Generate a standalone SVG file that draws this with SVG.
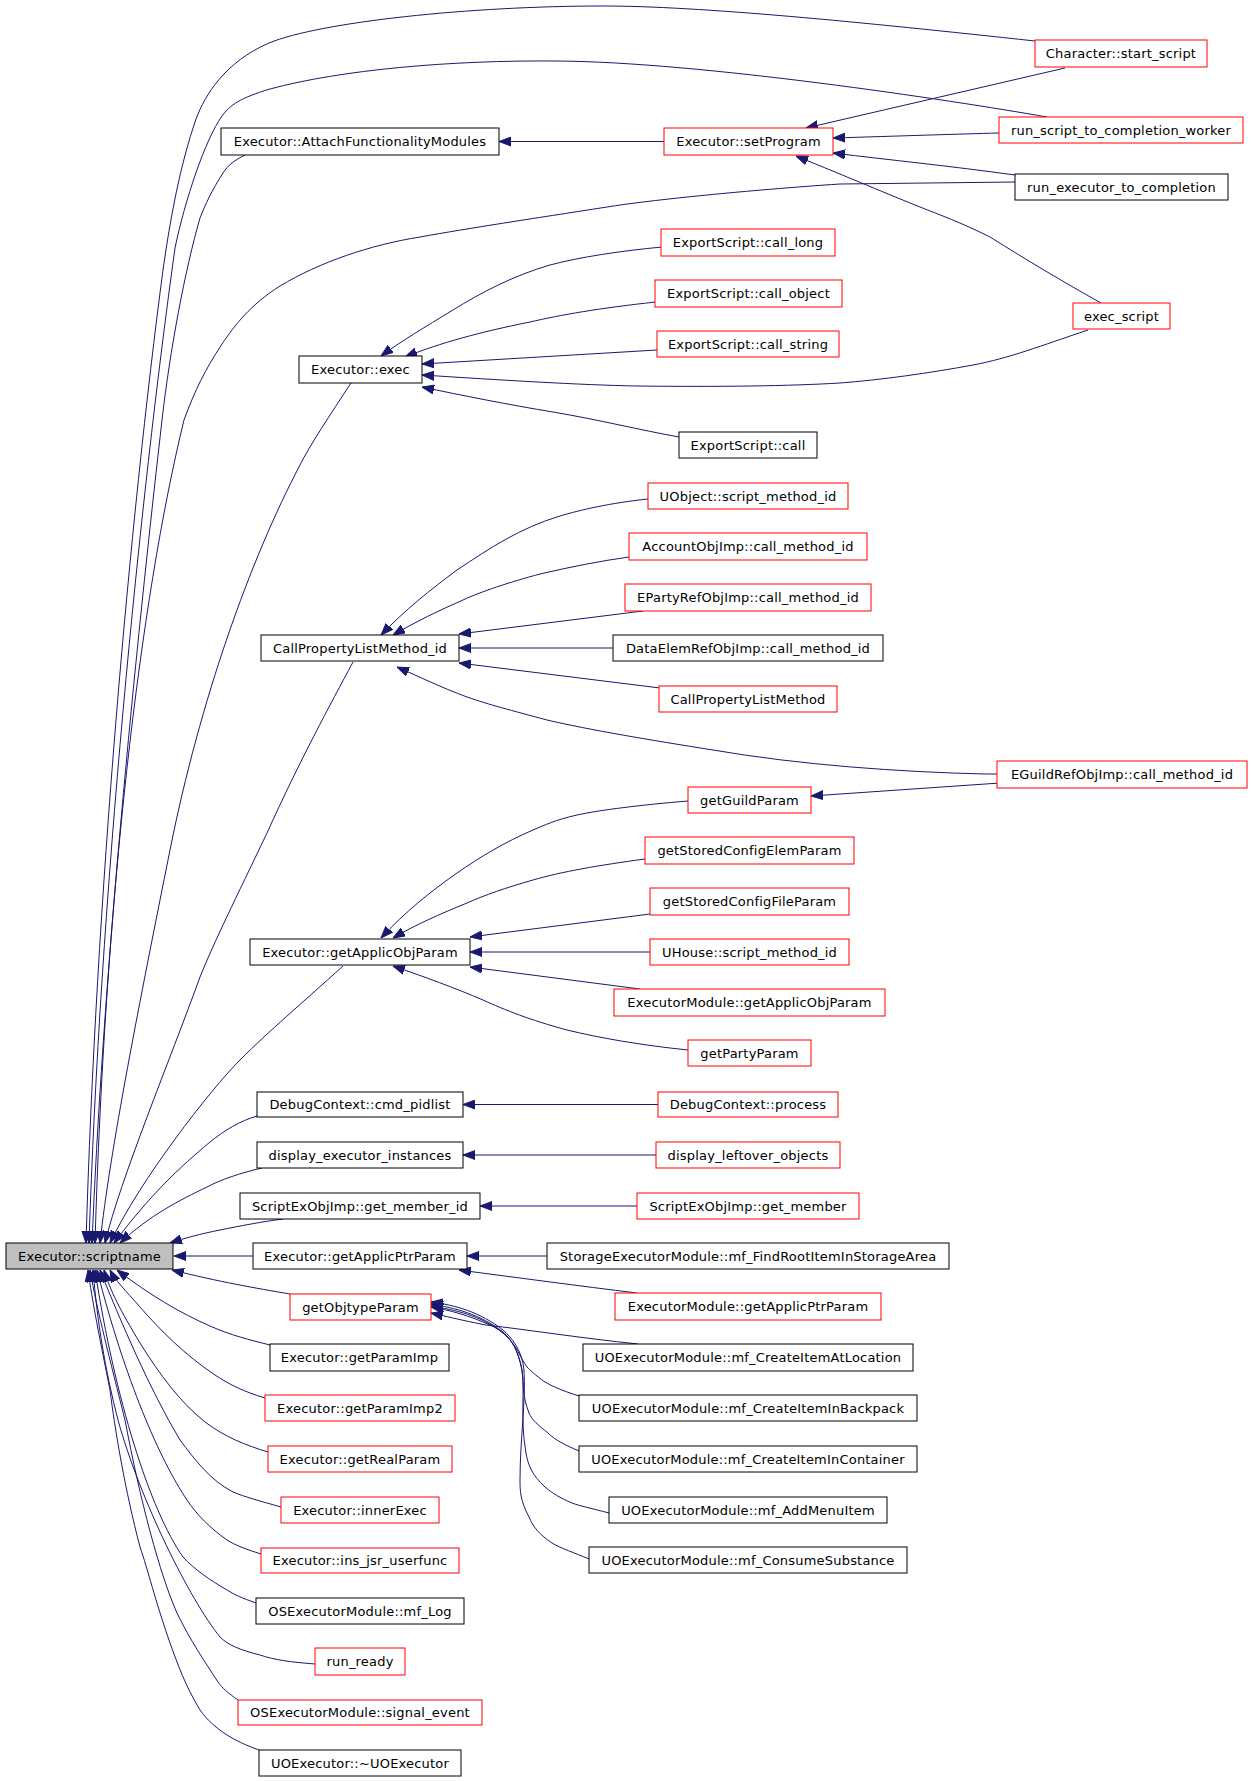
<svg xmlns="http://www.w3.org/2000/svg" width="1251" height="1781" viewBox="0 0 1251 1781">
<style>
.n rect{fill:#fff;stroke:#000;stroke-width:1}
.r rect{stroke:#f00}
.g rect{fill:#bfbfbf}
text{font-family:"DejaVu Sans","Liberation Sans",sans-serif;font-size:13px;letter-spacing:0.2px;text-anchor:middle;fill:#000}
#edges path{fill:none;stroke:#191970;stroke-width:1;marker-end:url(#a)}
</style>
<defs>
<marker id="a" markerWidth="12" markerHeight="10" refX="12" refY="5" orient="auto" markerUnits="userSpaceOnUse">
<path d="M0,0.5 L12,5 L0,9.5 z" fill="#191970" stroke="#191970" stroke-width="1"/>
</marker>
</defs>
<rect width="1251" height="1781" fill="#fff"/>
<g id="edges">
<path d="M1035,41 C860,22 700,6 603,6 C470,6 320,22 269,43 C225,62 205,95 196,119 C180,165 170,220 163,270 C130,520 96,900 86,1243"/>
<path d="M1047,117 C950,100 700,62 557,61 C450,60 340,70 270,89 C240,98 230,105 222,116 C205,140 185,200 175,248 C140,500 100,900 89,1243"/>
<path d="M245,155 C235,160 228,165 223,173 C212,190 205,205 200,218 C185,270 170,350 162,420 C130,700 102,1000 92,1243"/>
<path d="M1015,182 L840,184 C750,190 650,200 607,207 C530,219 470,228 420,237 C370,245 320,262 280,286 C250,305 235,325 222,344 C205,370 195,390 184,420 C140,600 105,900 95,1243"/>
<path d="M351,383 C330,415 310,445 300,465 C250,560 200,700 170,850 C140,1000 110,1150 100,1243"/>
<path d="M353,662 C330,705 300,760 267,833 C235,900 215,940 200,977 C170,1060 120,1180 105,1243"/>
<path d="M343,966 C300,1005 270,1030 240,1060 C210,1090 140,1180 110,1243"/>
<path d="M257,1116 C240,1121 225,1130 210,1142 C180,1167 150,1195 114,1243"/>
<path d="M262,1168 C240,1173 220,1180 207,1187 C180,1200 150,1215 120,1243"/>
<path d="M283,1219 C260,1222 240,1226 220,1230 C200,1234 185,1238 170,1243"/>
<path d="M253,1256 L174,1256"/>
<path d="M290,1294 C255,1288 220,1282 172,1270"/>
<path d="M270,1345 C250,1340 230,1335 210,1326 C180,1313 150,1295 117,1270"/>
<path d="M265,1398 C245,1392 230,1385 215,1375 C185,1355 160,1330 140,1307 C125,1290 115,1280 110,1270"/>
<path d="M268,1452 C245,1445 225,1437 205,1422 C180,1402 160,1375 140,1343 C120,1310 110,1290 104,1270"/>
<path d="M281,1507 C260,1501 245,1497 233,1492 C210,1480 195,1460 180,1440 C150,1390 120,1320 100,1270"/>
<path d="M261,1554 C245,1549 235,1545 227,1540 C210,1528 197,1515 187,1500 C160,1460 125,1380 97,1270"/>
<path d="M256,1603 C242,1598 235,1595 227,1590 C210,1580 195,1570 183,1557 C150,1510 115,1400 95,1270"/>
<path d="M315,1664 C290,1662 275,1660 260,1655 C240,1650 228,1645 220,1637 C190,1600 140,1500 118,1420 C105,1370 97,1320 93,1270"/>
<path d="M238,1700 C228,1693 222,1688 218,1682 C205,1662 190,1640 177,1613 C160,1575 140,1500 125,1420 C110,1360 97,1310 90,1270"/>
<path d="M259,1750 C245,1745 235,1740 227,1735 C215,1727 207,1720 200,1710 C185,1685 178,1665 170,1643 C155,1600 148,1570 140,1547 C125,1490 115,1430 110,1390 C100,1340 92,1300 88,1270"/>
<path d="M1065,68 L806,128"/>
<path d="M999,133 C960,134 900,136 833,138"/>
<path d="M1015,175 C950,166 890,160 833,153"/>
<path d="M1101,303 C1060,280 1030,262 990,237 C960,222 940,215 920,207 C890,195 850,178 796,156"/>
<path d="M664,141.5 L499,141.5"/>
<path d="M662,247 C620,251 580,257 550,265 C515,275 480,293 453,310 C425,327 400,342 381,356"/>
<path d="M656,302 C600,308 560,315 530,322 C480,332 440,343 405,357"/>
<path d="M657,350 L422,364"/>
<path d="M1088,330 C1040,346 1010,358 973,365 C930,373 880,380 840,383 C790,386 720,387 637,386 C580,385 500,380 422,375"/>
<path d="M679,437 C640,430 600,420 553,412 C510,405 460,395 422,387"/>
<path d="M648,499 C610,503 580,510 560,516 C520,528 490,548 457,570 C430,590 405,610 381,635"/>
<path d="M629,557 C600,561 570,567 540,574 C510,582 480,592 463,600 C440,610 415,622 393,635"/>
<path d="M643,611 L459,634"/>
<path d="M613,648 L459,648"/>
<path d="M660,688 L459,663"/>
<path d="M1000,774 L985,774 C900,772 800,765 713,750 C650,740 590,730 547,720 C510,710 490,705 467,697 C440,687 420,677 397,667"/>
<path d="M1000,783 L811,796"/>
<path d="M688,801 C640,805 600,810 577,815 C555,820 545,825 533,830 C505,842 480,857 457,873 C430,892 405,912 381,938"/>
<path d="M645,859 C600,865 560,872 533,880 C505,888 485,895 467,903 C440,914 415,925 393,938"/>
<path d="M650,914 L470,937"/>
<path d="M650,952 L470,952"/>
<path d="M640,989 L470,967"/>
<path d="M688,1050 C640,1045 600,1038 567,1030 C530,1020 505,1010 483,1000 C455,988 425,977 393,966"/>
<path d="M658,1104.5 L463,1104.5"/>
<path d="M656,1155 L463,1155"/>
<path d="M637,1206 L480,1206"/>
<path d="M547,1256 L467,1256"/>
<path d="M637,1293 C580,1286 520,1278 459,1270"/>
<path d="M638,1344 C580,1338 530,1330 486,1325 C460,1320 445,1316 431,1313"/>
<path d="M579,1396 C560,1390 550,1385 545,1382 C535,1375 530,1370 527,1367 C520,1357 518,1350 514,1345 C505,1333 497,1328 490,1325 C470,1316 450,1310 431,1307"/>
<path d="M579,1451 C565,1445 555,1440 548,1433 C538,1425 532,1420 529,1413 C522,1395 524,1385 522,1370 C518,1350 512,1340 503,1333 C480,1315 455,1310 431,1306"/>
<path d="M609,1513 C590,1508 580,1506 572,1503 C560,1498 552,1493 545,1487 C532,1475 528,1465 526,1453 C520,1420 525,1390 522,1370 C518,1350 512,1340 503,1332 C480,1314 455,1308 431,1304"/>
<path d="M589,1559 C575,1553 560,1548 552,1543 C540,1535 533,1527 529,1517 C520,1500 520,1490 520,1480 C520,1440 526,1400 524,1370 C522,1350 512,1338 503,1330 C480,1312 455,1305 431,1302"/>
</g>
<g id="n1" class="n g"><rect x="6" y="1243" width="167" height="26"/><text x="89.5" y="1260.5">Executor::scriptname</text></g>
<g id="n2" class="n"><rect x="221" y="128" width="278" height="27"/><text x="360" y="146">Executor::AttachFunctionalityModules</text></g>
<g id="n3" class="n r"><rect x="664" y="128" width="169" height="27"/><text x="748.5" y="146">Executor::setProgram</text></g>
<g id="n4" class="n r"><rect x="1035" y="40" width="172" height="27"/><text x="1121" y="58">Character::start_script</text></g>
<g id="n5" class="n r"><rect x="999" y="117" width="244" height="26"/><text x="1121" y="134.5">run_script_to_completion_worker</text></g>
<g id="n6" class="n"><rect x="1015" y="174" width="213" height="26"/><text x="1121.5" y="191.5">run_executor_to_completion</text></g>
<g id="n7" class="n r"><rect x="661" y="229" width="174" height="27"/><text x="748" y="247">ExportScript::call_long</text></g>
<g id="n8" class="n r"><rect x="655" y="280" width="187" height="27"/><text x="748.5" y="298">ExportScript::call_object</text></g>
<g id="n9" class="n r"><rect x="657" y="331" width="182" height="26"/><text x="748" y="348.5">ExportScript::call_string</text></g>
<g id="n10" class="n r"><rect x="1073" y="303" width="97" height="26"/><text x="1121.5" y="320.5">exec_script</text></g>
<g id="n11" class="n"><rect x="299" y="356" width="123" height="27"/><text x="360.5" y="374">Executor::exec</text></g>
<g id="n12" class="n"><rect x="679" y="432" width="138" height="26"/><text x="748" y="449.5">ExportScript::call</text></g>
<g id="n13" class="n r"><rect x="648" y="483" width="200" height="26"/><text x="748" y="500.5">UObject::script_method_id</text></g>
<g id="n14" class="n r"><rect x="629" y="533" width="238" height="27"/><text x="748" y="551">AccountObjImp::call_method_id</text></g>
<g id="n15" class="n r"><rect x="625" y="584" width="246" height="27"/><text x="748" y="602">EPartyRefObjImp::call_method_id</text></g>
<g id="n16" class="n"><rect x="613" y="635" width="270" height="26"/><text x="748" y="652.5">DataElemRefObjImp::call_method_id</text></g>
<g id="n17" class="n r"><rect x="659" y="686" width="178" height="26"/><text x="748" y="703.5">CallPropertyListMethod</text></g>
<g id="n18" class="n"><rect x="261" y="635" width="198" height="26"/><text x="360" y="652.5">CallPropertyListMethod_id</text></g>
<g id="n19" class="n r"><rect x="997" y="761" width="250" height="27"/><text x="1122" y="779">EGuildRefObjImp::call_method_id</text></g>
<g id="n20" class="n r"><rect x="688" y="787" width="123" height="26"/><text x="749.5" y="804.5">getGuildParam</text></g>
<g id="n21" class="n r"><rect x="645" y="837" width="209" height="27"/><text x="749.5" y="855">getStoredConfigElemParam</text></g>
<g id="n22" class="n r"><rect x="650" y="888" width="199" height="27"/><text x="749.5" y="906">getStoredConfigFileParam</text></g>
<g id="n23" class="n r"><rect x="650" y="939" width="199" height="26"/><text x="749.5" y="956.5">UHouse::script_method_id</text></g>
<g id="n24" class="n r"><rect x="614" y="989" width="271" height="27"/><text x="749.5" y="1007">ExecutorModule::getApplicObjParam</text></g>
<g id="n25" class="n r"><rect x="688" y="1040" width="123" height="26"/><text x="749.5" y="1057.5">getPartyParam</text></g>
<g id="n26" class="n"><rect x="250" y="939" width="220" height="26"/><text x="360" y="956.5">Executor::getApplicObjParam</text></g>
<g id="n27" class="n"><rect x="257" y="1092" width="206" height="25"/><text x="360" y="1109">DebugContext::cmd_pidlist</text></g>
<g id="n28" class="n r"><rect x="658" y="1092" width="180" height="25"/><text x="748" y="1109">DebugContext::process</text></g>
<g id="n29" class="n"><rect x="257" y="1142" width="206" height="26"/><text x="360" y="1159.5">display_executor_instances</text></g>
<g id="n30" class="n r"><rect x="656" y="1142" width="184" height="26"/><text x="748" y="1159.5">display_leftover_objects</text></g>
<g id="n31" class="n"><rect x="240" y="1193" width="240" height="26"/><text x="360" y="1210.5">ScriptExObjImp::get_member_id</text></g>
<g id="n32" class="n r"><rect x="637" y="1193" width="222" height="26"/><text x="748" y="1210.5">ScriptExObjImp::get_member</text></g>
<g id="n33" class="n"><rect x="253" y="1243" width="214" height="26"/><text x="360" y="1260.5">Executor::getApplicPtrParam</text></g>
<g id="n34" class="n"><rect x="547" y="1243" width="402" height="26"/><text x="748" y="1260.5">StorageExecutorModule::mf_FindRootItemInStorageArea</text></g>
<g id="n35" class="n r"><rect x="615" y="1293" width="266" height="27"/><text x="748" y="1311">ExecutorModule::getApplicPtrParam</text></g>
<g id="n36" class="n r"><rect x="290" y="1294" width="141" height="26"/><text x="360.5" y="1311.5">getObjtypeParam</text></g>
<g id="n37" class="n"><rect x="270" y="1344" width="179" height="27"/><text x="359.5" y="1362">Executor::getParamImp</text></g>
<g id="n38" class="n"><rect x="583" y="1344" width="330" height="27"/><text x="748" y="1362">UOExecutorModule::mf_CreateItemAtLocation</text></g>
<g id="n39" class="n r"><rect x="265" y="1395" width="190" height="26"/><text x="360" y="1412.5">Executor::getParamImp2</text></g>
<g id="n40" class="n"><rect x="579" y="1395" width="338" height="26"/><text x="748" y="1412.5">UOExecutorModule::mf_CreateItemInBackpack</text></g>
<g id="n41" class="n r"><rect x="268" y="1446" width="184" height="26"/><text x="360" y="1463.5">Executor::getRealParam</text></g>
<g id="n42" class="n"><rect x="579" y="1446" width="338" height="26"/><text x="748" y="1463.5">UOExecutorModule::mf_CreateItemInContainer</text></g>
<g id="n43" class="n r"><rect x="281" y="1497" width="158" height="26"/><text x="360" y="1514.5">Executor::innerExec</text></g>
<g id="n44" class="n"><rect x="609" y="1497" width="278" height="26"/><text x="748" y="1514.5">UOExecutorModule::mf_AddMenuItem</text></g>
<g id="n45" class="n r"><rect x="261" y="1548" width="198" height="25"/><text x="360" y="1565">Executor::ins_jsr_userfunc</text></g>
<g id="n46" class="n"><rect x="589" y="1547" width="318" height="26"/><text x="748" y="1564.5">UOExecutorModule::mf_ConsumeSubstance</text></g>
<g id="n47" class="n"><rect x="256" y="1598" width="208" height="26"/><text x="360" y="1615.5">OSExecutorModule::mf_Log</text></g>
<g id="n48" class="n r"><rect x="315" y="1648" width="90" height="27"/><text x="360" y="1666">run_ready</text></g>
<g id="n49" class="n r"><rect x="238" y="1700" width="244" height="25"/><text x="360" y="1717">OSExecutorModule::signal_event</text></g>
<g id="n50" class="n"><rect x="259" y="1750" width="202" height="26"/><text x="360" y="1767.5">UOExecutor::~UOExecutor</text></g>
</svg>
